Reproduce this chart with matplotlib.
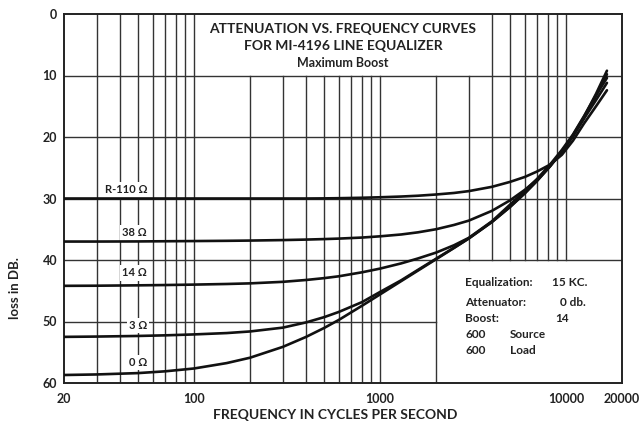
import matplotlib
matplotlib.use("Agg")
import matplotlib.pyplot as plt

plt.rcParams['font.family'] = ['Lato', 'DejaVu Sans']
plt.rcParams['font.weight'] = 'bold'

# ---- data ----
freq = [20, 30, 50, 70, 100, 150, 200, 300, 400, 500, 600, 800, 1000, 1300, 1600,
        2000, 2500, 3000, 4000, 5000, 6000, 7000, 8200, 9500, 10900, 12500, 14500, 16600]
loss_r110 = [30.0, 30.0, 30.0, 30.0, 30.0, 30.0, 30.0, 30.0, 30.0, 29.98, 29.95, 29.88,
             29.8, 29.68, 29.55, 29.35, 29.1, 28.8, 28.1, 27.3, 26.5, 25.6, 24.5, 22.9,
             20.6, 17.8, 15.0, 12.4]
loss_38 = [37.0, 37.0, 36.98, 36.95, 36.92, 36.88, 36.84, 36.76, 36.68, 36.6, 36.52, 36.35,
           36.15, 35.85, 35.5, 35.0, 34.3, 33.6, 32.0, 30.3, 28.6, 26.9, 24.7, 22.4,
           19.9, 17.0, 14.0, 11.2]
loss_14 = [44.2, 44.18, 44.12, 44.07, 44.0, 43.9, 43.8, 43.55, 43.25, 42.95, 42.65, 42.0,
           41.4, 40.55, 39.75, 38.8, 37.6, 36.4, 33.7, 31.0, 28.8, 26.8, 24.5, 22.1,
           19.6, 16.6, 13.2, 10.4]
loss_3 = [52.5, 52.45, 52.35, 52.25, 52.1, 51.88, 51.62, 51.0, 50.15, 49.3, 48.45, 46.85,
          45.2, 43.3, 41.6, 39.8, 38.0, 36.5, 33.8, 31.35, 29.15, 27.1, 24.8, 22.4,
          19.8, 16.9, 13.3, 9.8]
loss_0 = [58.7, 58.61, 58.39, 58.1, 57.64, 56.76, 55.89, 54.13, 52.51, 51.06, 49.75, 47.44,
          45.6, 43.43, 41.72, 39.88, 38.04, 36.5, 33.81, 31.39, 29.17, 27.09, 24.75, 22.32,
          19.69, 16.72, 12.98, 9.22]

curve_labels = ["R-110 Ω", "38 Ω", "14 Ω", "3 Ω", "0 Ω"]
curve_data = [loss_r110, loss_38, loss_14, loss_3, loss_0]
label_y = [28.6, 35.6, 42.1, 50.6, 56.7]
label_x = 56

xticks = [20, 100, 1000, 10000, 20000]
xticklabels = ["20", "100", "1000", "10000", "20000"]
yticks = [0, 10, 20, 30, 40, 50, 60]

minor_x = [30, 40, 50, 60, 70, 80, 90, 100, 200, 300, 400, 500, 600, 700, 800, 900,
           1000, 2000, 3000, 4000, 5000, 6000, 7000, 8000, 9000, 10000]
grid_y = [10, 20, 30, 40, 50]

title_lines = ["ATTENUATION VS. FREQUENCY CURVES", "FOR MI-4196 LINE EQUALIZER", "Maximum Boost"]

# ---- figure ----
W, H = 641, 424
fig = plt.figure(figsize=(W / 100, H / 100), dpi=100)
ax = fig.add_axes([64 / W, 1 - 383 / H, (622 - 64) / W, (383 - 14) / H])
ax.set_xscale('log')
ax.set_xlim(20, 20000)
ax.set_ylim(60, 0)

gc = '#333333'
# vertical grid lines (gaps inside title box and notes box)
for x in minor_x:
    y0 = 10 if 100 < x < 4000 else 0
    y1 = 40 if 2000 < x <= 20000 else 60
    ax.plot([x, x], [y0, y1], color=gc, lw=1.0, zorder=1)
# horizontal grid lines
for y in grid_y:
    x1 = 2000 if y > 40 else 20000
    ax.plot([20, x1], [y, y], color=gc, lw=1.0, zorder=1)

for d in curve_data:
    ax.plot(freq, d, color='#111111', lw=1.9, zorder=4,
            solid_capstyle='round', solid_joinstyle='round')

for lab, ly in zip(curve_labels, label_y):
    ax.text(label_x, ly, lab, ha='right', va='center', fontsize=8, color='#222222',
            zorder=3, bbox=dict(facecolor='white', edgecolor='none', pad=1.5))

for s in ax.spines.values():
    s.set_color('#222222')
    s.set_linewidth(1.4)

ax.set_xticks(xticks)
ax.set_xticklabels(xticklabels)
ax.xaxis.set_minor_locator(matplotlib.ticker.NullLocator())
ax.set_yticks(yticks)
ax.set_yticklabels([str(v) for v in yticks])
ax.tick_params(axis='both', length=0, labelsize=9, colors='#222222')
ax.tick_params(axis='x', pad=7)
ax.tick_params(axis='y', pad=5)
for t in ax.get_xticklabels() + ax.get_yticklabels():
    t.set_fontweight('bold')

# title box text
for i, (t, fs) in enumerate(zip(title_lines, [10, 10, 9])):
    fig.text(343 / W, 1 - [29, 46, 63][i] / H, t, ha='center', va='center',
             fontsize=fs, color='#222222', fontweight='bold')

# notes box
notes_rows = [("Equalization:", "15 KC."), ("Attenuator:", "0 db."), ("Boost:", "14")]
rows_y = [283, 302, 318, 335, 350]
col2_x = [552, 560, 555]
for (a, b), yy, cx in zip(notes_rows, rows_y[:3], col2_x):
    fig.text(465 / W, 1 - yy / H, a, ha='left', va='center', fontsize=8.5, color='#222222')
    fig.text(cx / W, 1 - yy / H, b, ha='left', va='center', fontsize=8.5, color='#222222')
for (a, b), yy in zip([("600", "Source"), ("600", "Load")], rows_y[3:]):
    fig.text(465 / W, 1 - yy / H, a, ha='left', va='center', fontsize=8.5, color='#222222')
    fig.text(510 / W, 1 - yy / H, b, ha='left', va='center', fontsize=8.5, color='#222222')

fig.text(15 / W, 1 - 288 / H, "loss in DB.", rotation=90, ha='center', va='center',
         fontsize=9.5, color='#222222')
fig.text(335 / W, 1 - 415 / H, "FREQUENCY IN CYCLES PER SECOND", ha='center', va='center',
         fontsize=10, color='#222222')

fig.savefig("out.png", dpi=100, facecolor='white')
